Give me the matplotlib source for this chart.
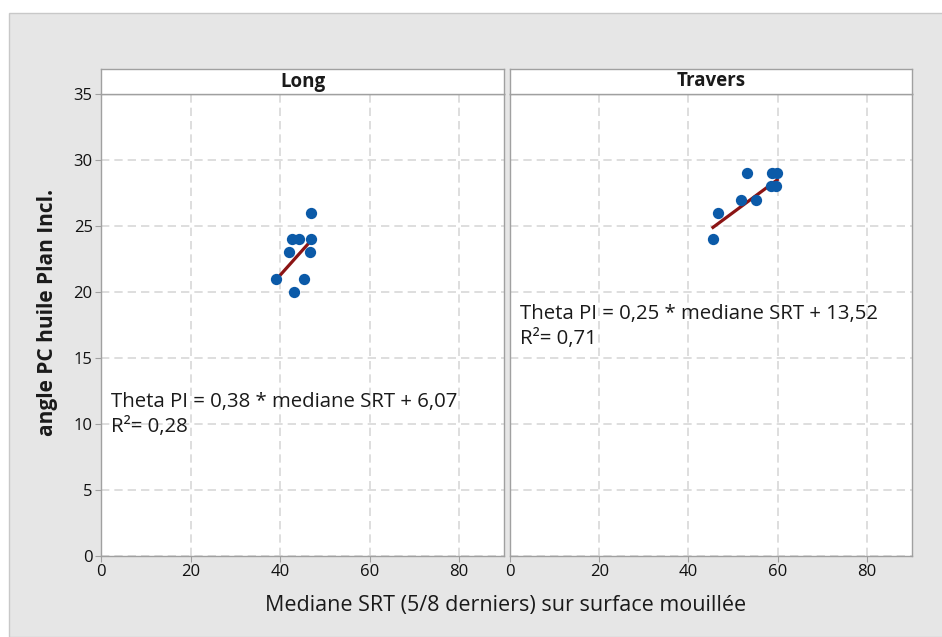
import matplotlib
matplotlib.use("Agg")
import matplotlib.pyplot as plt
from matplotlib.patches import Rectangle
import numpy as np

plt.rcParams['font.family'] = ['Open Sans', 'DejaVu Sans']

panels = ["Long", "Travers"]
long_x = [47.0, 42.7, 44.2, 46.8, 42.0, 46.7, 39.0, 45.3, 43.0]
long_y = [26, 24, 24, 24, 23, 23, 21, 21, 20]
trav_x = [53.2, 58.8, 59.9, 58.4, 59.7, 51.7, 55.1, 46.7, 45.5]
trav_y = [29, 29, 29, 28, 28, 27, 27, 26, 24]
slopes = [0.38, 0.25]
intercepts = [6.07, 13.52]
r2 = ["0,28", "0,71"]
eq_text = ["Theta PI = 0,38 * mediane SRT + 6,07", "Theta PI = 0,25 * mediane SRT + 13,52"]
eq_pos = [(2.2, 10.7), (2.2, 17.4)]
xticks = [0, 20, 40, 60, 80]
yticks = [0, 5, 10, 15, 20, 25, 30, 35]
xlabel = "Mediane SRT (5/8 derniers) sur surface mouillée"
ylabel = "angle PC huile Plan Incl."

data_x = [long_x, trav_x]
data_y = [long_y, trav_y]

W, H = 942, 637
fig = plt.figure(figsize=(W / 100, H / 100), dpi=100)
fig.patch.set_facecolor('white')
fig.add_artist(Rectangle((9 / W, 0), 1, 1 - 13 / H, transform=fig.transFigure,
                         facecolor='#e6e6e6', edgecolor='#c8c8c8', lw=1, zorder=-10))

spine_c = '#a0a0a0'
lefts = [101, 510]
rights = [504, 911.5]
top, bottom = 94, 556
strip_top = 69

for i in range(2):
    l, r = lefts[i], rights[i]
    ax = fig.add_axes([l / W, 1 - bottom / H, (r - l) / W, (bottom - top) / H])
    ax.set_facecolor('white')
    ax.set_xlim(0, 90)
    ax.set_ylim(0, 35)
    ax.set_xticks(xticks)
    ax.set_yticks(yticks)
    ax.grid(True, color='#d8d8d8', linestyle=(0, (5, 3)), linewidth=1.2)
    ax.set_axisbelow(True)
    for s in ax.spines.values():
        s.set_color(spine_c)
        s.set_linewidth(1.0)
    ax.tick_params(axis='both', direction='out', length=4, color=spine_c,
                   labelsize=12, labelcolor='#111111', pad=2)
    if i == 1:
        ax.tick_params(axis='y', left=False, labelleft=False)
    x = np.array(data_x[i])
    y = np.array(data_y[i])
    ax.scatter(x, y, s=66, color='#0B5AA8', zorder=3, linewidths=0)
    xl = np.array([x.min(), x.max()])
    ax.plot(xl, slopes[i] * xl + intercepts[i], color='#8B1414', lw=2.3, zorder=2)
    ax.text(eq_pos[i][0], eq_pos[i][1], eq_text[i] + "\nR²= " + r2[i],
            fontsize=14.7, color='#1a1a1a', va='center', ha='left', linespacing=1.32)
    # strip
    sax = fig.add_axes([l / W, 1 - top / H, (r - l) / W, (top - strip_top) / H])
    sax.set_facecolor('white')
    sax.set_xticks([]); sax.set_yticks([])
    for s in sax.spines.values():
        s.set_color(spine_c)
        s.set_linewidth(1.0)
    sax.text(0.5, 0.5, panels[i], transform=sax.transAxes, ha='center', va='center',
             fontsize=13.5, fontweight='bold', color='#1a1a1a')

fig.text(506 / W, 1 - 606 / H, xlabel, ha='center', va='center', fontsize=15.5, color='#1a1a1a')
fig.text(48 / W, 1 - 312 / H, ylabel, ha='center', va='center', rotation=90,
         fontsize=15, fontweight='bold', color='#1a1a1a')

fig.savefig("out.png", dpi=100)
